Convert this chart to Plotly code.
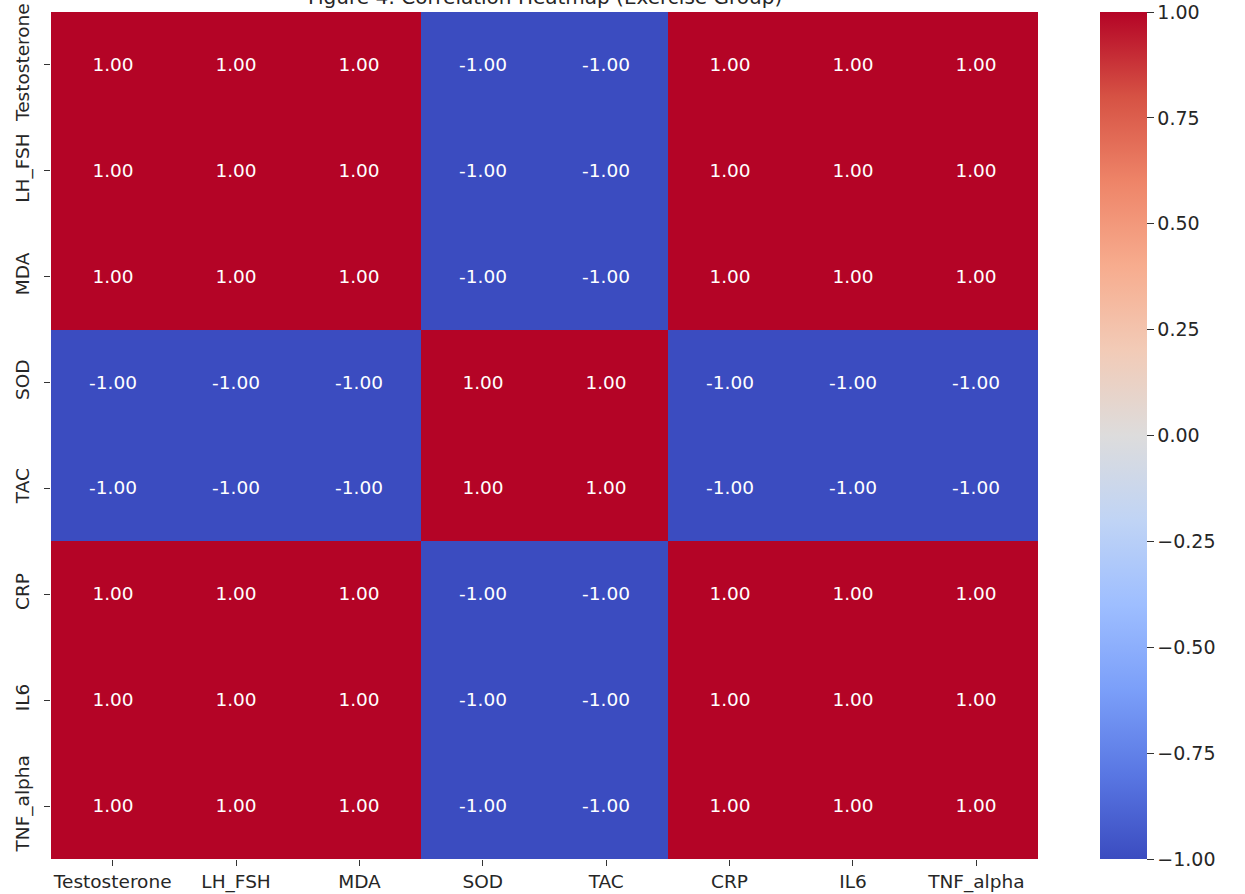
import plotly.graph_objects as go

labels = ["Testosterone", "LH_FSH", "MDA", "SOD", "TAC", "CRP", "IL6", "TNF_alpha"]

row_testosterone = [1, 1, 1, -1, -1, 1, 1, 1]
row_lh_fsh = [1, 1, 1, -1, -1, 1, 1, 1]
row_mda = [1, 1, 1, -1, -1, 1, 1, 1]
row_sod = [-1, -1, -1, 1, 1, -1, -1, -1]
row_tac = [-1, -1, -1, 1, 1, -1, -1, -1]
row_crp = [1, 1, 1, -1, -1, 1, 1, 1]
row_il6 = [1, 1, 1, -1, -1, 1, 1, 1]
row_tnf = [1, 1, 1, -1, -1, 1, 1, 1]

z = [row_testosterone, row_lh_fsh, row_mda, row_sod, row_tac, row_crp, row_il6, row_tnf]
text = [["%.2f" % v for v in row] for row in z]

colorbar_ticks = [-1.0, -0.75, -0.5, -0.25, 0.0, 0.25, 0.5, 0.75, 1.0]
colorbar_ticktext = [("\u2212%.2f" % abs(v)) if v < 0 else "%.2f" % v for v in colorbar_ticks]

coolwarm = [
    [0.0, "#3b4cc0"], [0.1, "#5977e3"], [0.2, "#7b9ff9"], [0.3, "#9ebeff"],
    [0.4, "#c0d4f5"], [0.5, "#dddcdc"], [0.6, "#f2cbb7"], [0.7, "#f7ac8e"],
    [0.8, "#ee8468"], [0.9, "#d65244"], [1.0, "#b40426"],
]

W, H = 1245, 894
L, R, T, B = 51, 1038, 12, 859
FONT = "DejaVu Sans"
TXT = "#262626"

fig = go.Figure(go.Heatmap(
    z=z, x=labels, y=labels,
    text=text, texttemplate="%{text}",
    textfont=dict(family=FONT, size=18.5, color="white"),
    colorscale=coolwarm, zmin=-1, zmax=1,
    colorbar=dict(
        xref="container", x=1090 / W, xanchor="left",
        yref="paper", y=0.5, yanchor="middle",
        thickness=47, lenmode="pixels", len=B - T, ypad=0,
        outlinewidth=0,
        tickvals=colorbar_ticks, ticktext=colorbar_ticktext,
        ticks="outside", ticklen=7, tickwidth=1, tickcolor="#333",
        tickfont=dict(family=FONT, size=19, color=TXT),
    ),
))

fig.update_layout(
    width=W, height=H,
    margin=dict(l=L, r=W - R, t=T, b=H - B, pad=0, autoexpand=False),
    paper_bgcolor="white", plot_bgcolor="white",
    xaxis=dict(
        ticks="outside", ticklen=6, tickcolor="#333",
        tickfont=dict(family=FONT, size=18.5, color=TXT),
        showgrid=False, zeroline=False, showline=False,
    ),
    yaxis=dict(
        autorange="reversed", tickangle=-90,
        ticks="outside", ticklen=6, tickcolor="#333",
        ticklabelstandoff=8,
        tickfont=dict(family=FONT, size=18.5, color=TXT),
        showgrid=False, zeroline=False, showline=False,
    ),
    annotations=[dict(
        text="Figure 4: Correlation Heatmap (Exercise Group)",
        xref="paper", yref="paper", x=0.5, y=1 + 1 / (B - T),
        xanchor="center", yanchor="bottom", showarrow=False,
        font=dict(family=FONT, size=20, color=TXT),
    )],
)

fig.write_html(
    "out.html",
    config={"displayModeBar": False},
    post_script="document.body.style.margin='0px';document.body.style.overflow='hidden';",
)
